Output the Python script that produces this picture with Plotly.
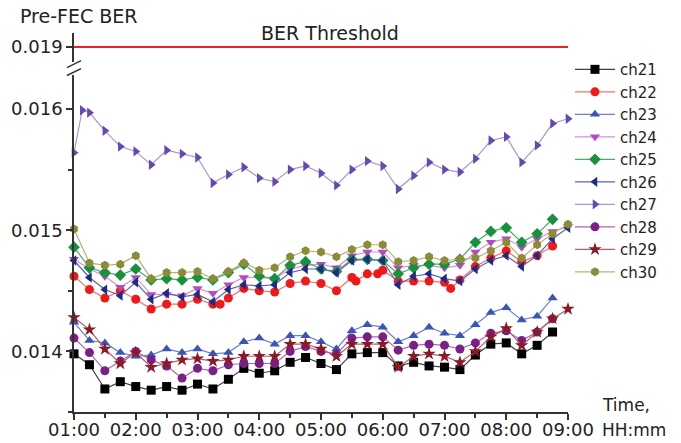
import plotly.graph_objects as go
import pandas as pd

BASE = pd.Timestamp("2000-01-01 01:00")
times_15 = [BASE + pd.Timedelta(minutes=15 * k) for k in range(33)]

ch21 = [0.01398, 0.01389, 0.01369, 0.01375, 0.01371, 0.01368, 0.01371, 0.01368, 0.01373, 0.01369,
        0.01377, 0.01386, 0.01382, 0.01384, 0.01391, 0.01395, 0.01390, 0.01385, 0.01398, 0.01399,
        0.01399, 0.01388, 0.01391, 0.01388, 0.01387, 0.01385, 0.01397, 0.01406, 0.01407, 0.01398,
        0.01405, 0.01416]
ch22_minutes = [0, 15, 30, 45, 60, 75, 90, 105, 120, 135, 142, 150, 165, 180, 195, 210, 225, 240,
                255, 270, 274, 285, 295, 300, 315, 330, 345, 360, 366, 375, 390, 405, 420, 435, 450, 465]
ch22 = [0.01462, 0.01451, 0.01444, 0.01450, 0.01443, 0.01435, 0.01439, 0.01439, 0.01443, 0.01439,
        0.01439, 0.01444, 0.01452, 0.01450, 0.01449, 0.01456, 0.01458, 0.01456, 0.01450, 0.01461,
        0.01458, 0.01464, 0.01464, 0.01467, 0.01458, 0.01458, 0.01458, 0.01457, 0.01452, 0.01459,
        0.01470, 0.01477, 0.01483, 0.01474, 0.01479, 0.01487]
ch23 = [0.01424, 0.01409, 0.01407, 0.01399, 0.01396, 0.01397, 0.01402, 0.01399, 0.01402, 0.01398,
        0.01399, 0.01408, 0.01411, 0.01406, 0.01413, 0.01413, 0.01408, 0.01402, 0.01417, 0.01422,
        0.01420, 0.01408, 0.01413, 0.01420, 0.01415, 0.01413, 0.01422, 0.01432, 0.01436, 0.01426,
        0.01429, 0.01444]
ch24 = [0.01476, 0.01468, 0.01462, 0.01453, 0.01461, 0.01447, 0.01447, 0.01446, 0.01452, 0.01448,
        0.01455, 0.01461, 0.01461, 0.01460, 0.01468, 0.01471, 0.01472, 0.01469, 0.01479, 0.01482,
        0.01482, 0.01469, 0.01471, 0.01471, 0.01469, 0.01471, 0.01482, 0.01490, 0.01493, 0.01486,
        0.01493, 0.01499, 0.01503]
ch25 = [0.01486, 0.01469, 0.01465, 0.01463, 0.01468, 0.01459, 0.01460, 0.01459, 0.01461, 0.01459,
        0.01465, 0.01472, 0.01462, 0.01460, 0.01471, 0.01474, 0.01468, 0.01466, 0.01476, 0.01476,
        0.01475, 0.01464, 0.01469, 0.01472, 0.01472, 0.01476, 0.01490, 0.01499, 0.01502, 0.01490,
        0.01497, 0.01509]
ch26 = [0.01475, 0.01461, 0.01451, 0.01446, 0.01457, 0.01443, 0.01448, 0.01445, 0.01447, 0.01441,
        0.01451, 0.01455, 0.01454, 0.01455, 0.01465, 0.01468, 0.01468, 0.01465, 0.01475, 0.01476,
        0.01475, 0.01455, 0.01462, 0.01464, 0.01460, 0.01458, 0.01468, 0.01475, 0.01479, 0.01470,
        0.01479, 0.01493, 0.01502]
ch27_minutes = [0, 8] + [15 * k for k in range(1, 33)]
ch27 = [0.01564, 0.01599, 0.01597, 0.01582, 0.01569, 0.01565, 0.01554, 0.01566, 0.01563, 0.01560,
        0.01539, 0.01546, 0.01552, 0.01543, 0.01540, 0.01550, 0.01553, 0.01547, 0.01537, 0.01550,
        0.01557, 0.01553, 0.01534, 0.01545, 0.01556, 0.01550, 0.01548, 0.01559, 0.01574, 0.01577,
        0.01556, 0.01570, 0.01588, 0.01592]
ch28 = [0.01411, 0.01399, 0.01384, 0.01392, 0.01400, 0.01393, 0.01388, 0.01378, 0.01386, 0.01384,
        0.01389, 0.01390, 0.01390, 0.01390, 0.01400, 0.01404, 0.01400, 0.01398, 0.01411, 0.01412,
        0.01412, 0.01401, 0.01405, 0.01406, 0.01405, 0.01402, 0.01407, 0.01415, 0.01417, 0.01409,
        0.01416, 0.01427]
ch29 = [0.01428, 0.01418, 0.01402, 0.01390, 0.01399, 0.01387, 0.01390, 0.01393, 0.01394, 0.01392,
        0.01393, 0.01396, 0.01396, 0.01396, 0.01406, 0.01406, 0.01402, 0.01396, 0.01406, 0.01406,
        0.01406, 0.01387, 0.01396, 0.01398, 0.01396, 0.01391, 0.01400, 0.01412, 0.01419, 0.01405,
        0.01416, 0.01427, 0.01435]
ch30 = [0.01501, 0.01473, 0.01471, 0.01472, 0.01479, 0.01460, 0.01465, 0.01465, 0.01466, 0.01460,
        0.01466, 0.01473, 0.01467, 0.01469, 0.01478, 0.01483, 0.01482, 0.01478, 0.01484, 0.01488,
        0.01488, 0.01474, 0.01475, 0.01478, 0.01475, 0.01476, 0.01477, 0.01483, 0.01490, 0.01477,
        0.01488, 0.01497, 0.01505]

threshold = 0.019
y_ticks_low = [0.014, 0.015, 0.016]
y_ticks_high = [0.019]

def mins(lst):
    return [BASE + pd.Timedelta(minutes=m) for m in lst]

series = [
    ("ch21", times_15[:len(ch21)], ch21, "square", "#000000", "#404040"),
    ("ch22", mins(ch22_minutes), ch22, "circle", "#f01818", "#f07070"),
    ("ch23", times_15[:len(ch23)], ch23, "triangle-up", "#3a55b8", "#7080c8"),
    ("ch24", times_15[:len(ch24)], ch24, "triangle-down", "#b24cc0", "#d890d8"),
    ("ch25", times_15[:len(ch25)], ch25, "diamond", "#17913c", "#50a868"),
    ("ch26", times_15[:len(ch26)], ch26, "triangle-left", "#1e2a86", "#5a66ac"),
    ("ch27", mins(ch27_minutes), ch27, "triangle-right", "#6648b0", "#a698cc"),
    ("ch28", times_15[:len(ch28)], ch28, "circle", "#7a1f86", "#a66aae"),
    ("ch29", times_15[:len(ch29)], ch29, "star", "#8a1a26", "#b06068"),
    ("ch30", times_15[:len(ch30)], ch30, "hexagon", "#8c8c38", "#b4b478"),
]

FONT = "DejaVu Sans"
fig = go.Figure()
for name, xs, ys, sym, mc, lc in series:
    fig.add_trace(go.Scatter(
        x=xs, y=ys, name=name, mode="lines+markers",
        line=dict(color=lc, width=1.2),
        marker=dict(symbol=sym, color=mc, size=9 if sym != "star" else 10, line=dict(width=0)),
        cliponaxis=False,
    ))

fig.add_trace(go.Scatter(
    x=[times_15[0], times_15[-1]], y=[threshold, threshold], yaxis="y2",
    mode="lines", line=dict(color="#e8242a", width=2.2), showlegend=False,
))

axis_col = "#333333"
fig.update_layout(
    width=681, height=443,
    margin=dict(l=74, r=113, t=33, b=31, autoexpand=False),
    paper_bgcolor="white", plot_bgcolor="white",
    font=dict(family=FONT, size=18, color="#222222"),
    xaxis=dict(
        type="date", range=[times_15[0], times_15[-1]], automargin=False,
        dtick=3600000, tickformat="%H:%M",
        showline=True, linecolor=axis_col, linewidth=1.5,
        ticks="outside", ticklen=6, tickwidth=1.5, tickcolor=axis_col,
        ticklabelstandoff=-5,
        minor=dict(dtick=1800000, ticks="outside", ticklen=4, tickcolor=axis_col, tickwidth=1.5),
        showgrid=False, zeroline=False,
        tickfont=dict(family=FONT, size=18, color="#222222"),
    ),
    yaxis=dict(
        domain=[0, 0.889], range=[0.0135, 0.01628], automargin=False,
        tickmode="array", tickvals=y_ticks_low, tickformat=".3f",
        showline=True, linecolor=axis_col, linewidth=1.5,
        ticks="outside", ticklen=6, tickwidth=1.5, tickcolor=axis_col,
        minor=dict(tickmode="array", tickvals=[0.0135, 0.0145, 0.0155], ticks="outside",
                   ticklen=4, tickcolor=axis_col, tickwidth=1.5),
        showgrid=False, zeroline=False,
        tickfont=dict(family=FONT, size=18, color="#222222"),
    ),
    yaxis2=dict(
        domain=[0.9235, 1], range=[0.01885, 0.01914], anchor="x", automargin=False,
        tickmode="array", tickvals=y_ticks_high, tickformat=".3f",
        showline=True, linecolor=axis_col, linewidth=1.5,
        ticks="outside", ticklen=6, tickwidth=1.5, tickcolor=axis_col,
        showgrid=False, zeroline=False,
        tickfont=dict(family=FONT, size=18, color="#222222"),
    ),
    legend=dict(
        x=1.004, xanchor="left", y=0.947, yanchor="top",
        font=dict(family=FONT, size=15, color="#222222"),
        itemwidth=40, bgcolor="rgba(0,0,0,0)", borderwidth=0,
        tracegroupgap=0,
    ),
    showlegend=True,
)

fig.add_annotation(text="Pre-FEC BER", xref="paper", yref="paper", x=-0.113, y=1.045,
                   xanchor="left", yanchor="middle", showarrow=False,
                   font=dict(family=FONT, size=19, color="#222222"))
fig.add_annotation(text="BER Threshold", xref="paper", yref="paper", x=(330 - 74) / 494,
                   y=(412 - 33) / 379, xanchor="center", yanchor="middle", showarrow=False,
                   font=dict(family=FONT, size=19, color="#222222"))
fig.add_annotation(text="Time,", xref="paper", yref="paper", x=(600 - 74) / 494,
                   y=(412 - 405) / 379, xanchor="left", yanchor="middle", showarrow=False,
                   font=dict(family=FONT, size=17, color="#222222"))
fig.add_annotation(text="HH:mm", xref="paper", yref="paper", x=(600 - 74) / 494,
                   y=(412 - 430) / 379, xanchor="left", yanchor="middle", showarrow=False,
                   font=dict(family=FONT, size=17, color="#222222"))

# axis break marks
for cy in [0.918, 0.897]:
    fig.add_shape(type="line", xref="paper", yref="paper",
                  x0=-0.0142, y0=cy - 0.0092, x1=0.0142, y1=cy + 0.0092,
                  line=dict(color=axis_col, width=1.5))

fig.write_html("out.html")
